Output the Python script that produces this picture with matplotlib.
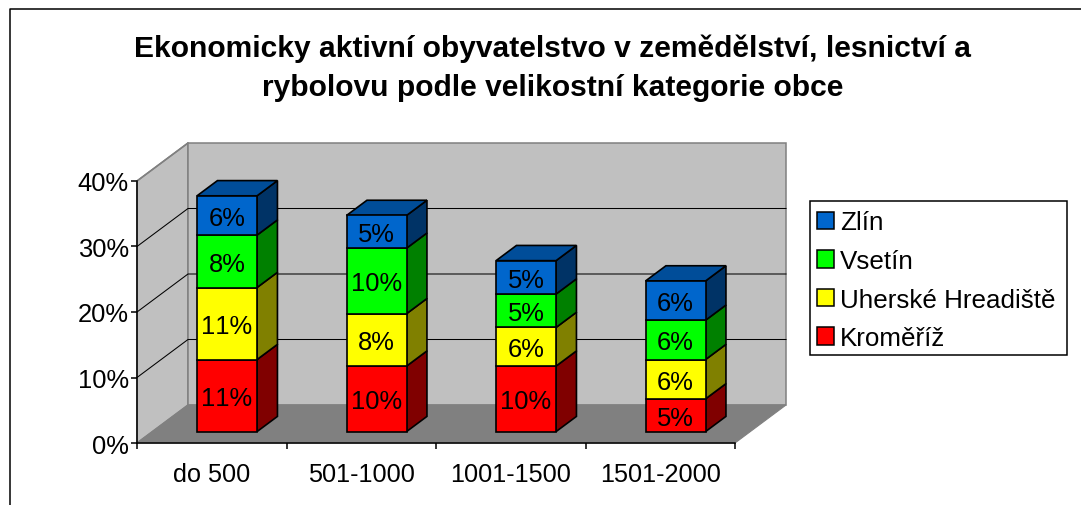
import matplotlib
matplotlib.use('Agg')
import matplotlib.pyplot as plt
from matplotlib.patches import Patch, Polygon, Rectangle
from matplotlib.lines import Line2D

categories = ['do 500', '501-1000', '1001-1500', '1501-2000']
series_names = ['Kroměříž', 'Uherské Hreadiště', 'Vsetín', 'Zlín']
kromeriz = [11.0, 10.0, 10.0, 5.0]
uherske = [11.0, 8.0, 5.9, 6.0]
vsetin = [8.0, 10.0, 5.1, 6.0]
zlin = [6.0, 5.0, 5.1, 6.0]
series = [kromeriz, uherske, vsetin, zlin]
labels = [['11%', '10%', '10%', '5%'],
          ['11%', '8%', '6%', '6%'],
          ['8%', '10%', '5%', '6%'],
          ['6%', '5%', '5%', '6%']]
yticks = [0, 10, 20, 30, 40]

front = ['#ff0000', '#ffff00', '#00ff00', '#0066cc']
side = ['#800000', '#808000', '#008000', '#003366']
top = '#004d99'

W, H = 1081, 506
plt.rcParams['font.family'] = ['Liberation Sans', 'DejaVu Sans']
plt.rcParams['text.kerning_factor'] = 16  # source chart has no kerning

fig = plt.figure(figsize=(W / 100, H / 100), dpi=100)
ax = fig.add_axes([137 / W, 1 - 444 / H, 598 / W, 262 / H])
ax.set_xlim(0, 4)
ax.set_ylim(0, 40)
ax.patch.set_visible(False)

# depth of the fake 3d box in data units
dx = 51 / 149.5
dy = 38 / 6.55
bar_w = 60 / 149.5
bar_front = 0.3
bar_depth = 0.4


def poly(pts, fc, ec, lw, z):
    ax.add_patch(Polygon(pts, closed=True, facecolor=fc, edgecolor=ec, linewidth=lw,
                         zorder=z, clip_on=False, joinstyle='miter'))


# walls and floor
poly([(0, 0), (dx, dy), (dx, 40 + dy), (0, 40)], '#c0c0c0', '#808080', 1.1, 1)
poly([(dx, dy), (4 + dx, dy), (4 + dx, 40 + dy), (dx, 40 + dy)], '#c0c0c0', '#808080', 1.1, 1)
poly([(0, 0), (4, 0), (4 + dx, dy), (dx, dy)], '#808080', '#808080', 0.8, 1)

# gridlines go across left wall and back wall
for t in yticks[1:-1]:
    ax.plot([0, dx, 4 + dx], [t, t + dy, t + dy], color='black', lw=0.75, zorder=2, clip_on=False)
ax.plot([0, dx], [40, 40 + dy], color='#808080', lw=1.1, zorder=2, clip_on=False)

# stacked bars
for i, cat in enumerate(categories):
    xc = i + 0.5 + bar_front * dx
    x1 = xc + bar_w / 2
    base = bar_front * dy
    d_x = bar_depth * dx
    d_y = bar_depth * dy
    for s, vals in enumerate(series):
        v = vals[i]
        ax.bar(xc, v, width=bar_w, bottom=base, color=front[s], edgecolor='black',
               linewidth=1.2, zorder=5, clip_on=False)
        poly([(x1, base), (x1 + d_x, base + d_y), (x1 + d_x, base + v + d_y), (x1, base + v)],
             side[s], 'black', 1.2, 4)
        ax.text(xc, base + v / 2, labels[s][i], ha='center', va='center_baseline', fontsize=18.4,
                color='black', zorder=6)
        base += v
    x0 = xc - bar_w / 2
    poly([(x0, base), (x1, base), (x1 + d_x, base + d_y), (x0 + d_x, base + d_y)],
         top, 'black', 1.2, 4)

for sp in ['top', 'right']:
    ax.spines[sp].set_visible(False)
for sp in ['left', 'bottom']:
    ax.spines[sp].set_linewidth(1.1)
    ax.spines[sp].set_zorder(3)

ax.set_yticks(yticks)
ax.set_yticklabels([f'{t}%' for t in yticks], fontsize=18.4)
ax.set_xticks(range(5))
ax.set_xticklabels([])
ax.set_xticks([i + 0.5 for i in range(4)], minor=True)
ax.set_xticklabels(categories, minor=True, fontsize=18.2)
ax.tick_params(axis='both', which='major', length=4, width=1.1, pad=2)
ax.tick_params(axis='x', which='minor', length=0, pad=14)

# title
fig.text(553 / W, 1 - 57 / H, 'Ekonomicky aktivní obyvatelstvo v zemědělství, lesnictví a',
         ha='center', va='baseline', fontsize=21.65, fontweight='bold')
fig.text(553 / W, 1 - 96 / H, 'rybolovu podle velikostní kategorie obce',
         ha='center', va='baseline', fontsize=21.65, fontweight='bold')

# legend, top series first; frame drawn apart because its padding differs per side
fig.add_artist(Rectangle((809.5 / W, 1 - 355.5 / H), 257 / W, 153.5 / H, transform=fig.transFigure,
                         facecolor='white', edgecolor='black', linewidth=1.1, zorder=1))
handles = [Patch(facecolor=front[s], edgecolor='black', linewidth=1.1) for s in range(3, -1, -1)]
leg = fig.legend(handles, series_names[::-1], loc='upper left',
                 bbox_to_anchor=(817 / W, 1 - 211.5 / H), borderaxespad=0, fontsize=18.7,
                 frameon=False, handlelength=0.65, handleheight=0.65, handletextpad=0.25,
                 labelspacing=0.56, borderpad=0)
leg.set_zorder(2)

# chart area border, only left and top are in the crop
fig.add_artist(Line2D([9.5 / W, 9.5 / W, 1], [0, 1 - 9.5 / H, 1 - 9.5 / H], color='black', lw=1.1))

fig.savefig('out.png', dpi=100)
